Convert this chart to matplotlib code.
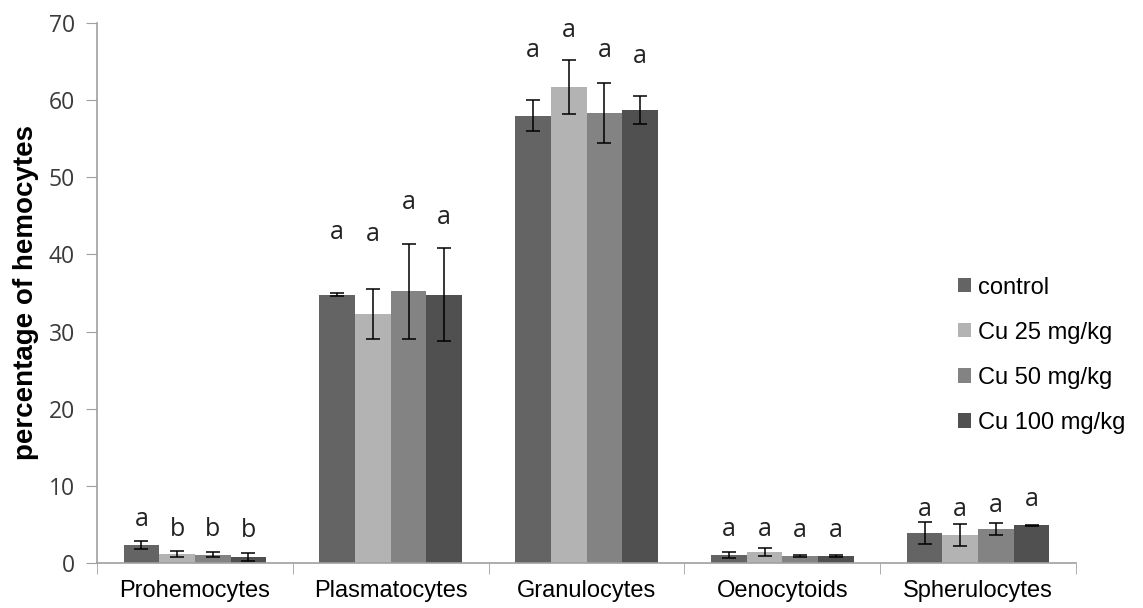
import numpy as np
import matplotlib
matplotlib.use("Agg")
import matplotlib.pyplot as plt
from matplotlib.ticker import FixedLocator

# 데이터
categories = ["Prohemocytes", "Plasmatocytes", "Granulocytes", "Oenocytoids", "Spherulocytes"]
groups = ["control", "Cu 25 mg/kg", "Cu 50 mg/kg", "Cu 100 mg/kg"]

control = [2.3, 34.8, 58.0, 1.0, 3.9]
cu25 = [1.2, 32.3, 61.7, 1.4, 3.6]
cu50 = [1.1, 35.2, 58.3, 0.9, 4.4]
cu100 = [0.8, 34.8, 58.7, 0.9, 4.9]

control_err = [0.5, 0.15, 2.0, 0.4, 1.4]
cu25_err = [0.4, 3.2, 3.5, 0.5, 1.4]
cu50_err = [0.3, 6.2, 3.9, 0.1, 0.8]
cu100_err = [0.5, 6.0, 1.8, 0.1, 0.05]

letters = [
    ["a", "a", "a", "a", "a"],
    ["b", "a", "a", "a", "a"],
    ["b", "a", "a", "a", "a"],
    ["b", "a", "a", "a", "a"],
]
# 글자 높이 (y축 값)
letter_y = [
    [5.6, 42.9, 66.4, 4.3, 6.9],
    [4.3, 42.6, 69.0, 4.4, 6.9],
    [4.3, 46.7, 66.4, 4.2, 7.5],
    [4.2, 44.8, 65.7, 4.2, 8.2],
]

colors = ["#646464", "#b3b3b3", "#838383", "#505050"]

plt.rcParams['font.family'] = ['Liberation Sans', 'DejaVu Sans']

fig = plt.figure(figsize=(11.43, 6.08), dpi=100)
ax = fig.add_axes([0.0849, 0.074, 0.8565, 0.8882])

values = [control, cu25, cu50, cu100]
errors = [control_err, cu25_err, cu50_err, cu100_err]

x = np.arange(len(categories))
bar_w = 0.182
for i, (vals, errs) in enumerate(zip(values, errors)):
    pos = x + (i - 1.5) * bar_w
    ax.bar(pos, vals, width=bar_w, color=colors[i], label=groups[i],
           yerr=errs, capsize=5, error_kw=dict(elinewidth=1.1, capthick=1.1, ecolor='black'))
    for j in range(len(categories)):
        ax.text(pos[j], letter_y[i][j], letters[i][j], ha='center', va='center',
                fontsize=18, family=['Open Sans', 'DejaVu Sans'], color='#222222')

ax.set_xlim(-0.5, len(categories) - 0.5)
ax.set_ylim(0, 70)
ax.set_yticks(range(0, 71, 10))
ax.set_xticks(x)
ax.set_xticklabels(categories, fontsize=17)
ax.xaxis.set_minor_locator(FixedLocator(np.arange(-0.5, len(categories), 1)))
ax.tick_params(axis='x', which='major', length=0, pad=12)
ax.tick_params(axis='x', which='minor', length=8, color='#a0a0a0', direction='out')
ax.tick_params(axis='y', length=8, color='#a0a0a0', labelsize=16.5, pad=8, labelcolor='#3a3a3a')
for lbl in ax.get_yticklabels():
    lbl.set_family(['Open Sans', 'DejaVu Sans'])

for s in ['top', 'right']:
    ax.spines[s].set_visible(False)
for s in ['left', 'bottom']:
    ax.spines[s].set_color('#a0a0a0')
    ax.spines[s].set_linewidth(1.2)

ax.set_ylabel("percentage of hemocytes", fontsize=20, fontweight='bold', labelpad=7)

leg = ax.legend(loc='upper left', bbox_to_anchor=(0.87, 0.548), frameon=False,
                fontsize=17, handlelength=0.55, handleheight=0.55, handletextpad=0.3,
                labelspacing=0.98, borderaxespad=0)

fig.savefig("out.png", dpi=100)
